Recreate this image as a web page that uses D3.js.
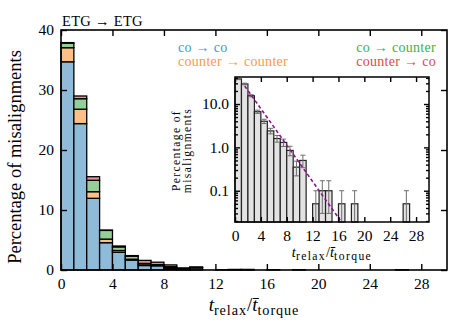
<!DOCTYPE html>
<html>
<head>
<meta charset="utf-8">
<script src="https://cdn.jsdelivr.net/npm/d3@7"></script>
<style>
  body { margin: 0; background: #fff; }
  svg text { font-family: "Liberation Serif", "DejaVu Serif", serif !important; }
</style>
</head>
<body>
<svg id="chart" width="463" height="331" font-family="Liberation Serif, DejaVu Serif, serif"></svg>
<script>
// bin left edges, width 1 (t_relax / t_torque)
const binStart = d3.range(0, 30);

// percentage of misalignments in each bin, per transition type
const coCo =           [34.7, 24.4, 11.95, 4.55, 2.95, 1.65, 0.75, 0.7, 0.2, 0.1, 0.35, 0, 0.05, 0.05, 0.05, 0, 0, 0, 0.05, 0, 0, 0, 0, 0, 0, 0, 0.05, 0, 0, 0];
const counterCounter = [2.35, 2.4, 1.1, 0.6, 0.3, 0.15, 0.1, 0.1, 0.15, 0.05, 0.05, 0, 0, 0, 0, 0, 0.05, 0, 0, 0, 0, 0, 0, 0, 0, 0, 0, 0, 0, 0];
const coCounter =      [0.75, 1.75, 1.9, 1.45, 0.6, 0.5, 0.25, 0.1, 0.2, 0.1, 0.05, 0, 0, 0, 0.05, 0, 0, 0, 0, 0, 0, 0, 0, 0, 0, 0, 0, 0, 0, 0];
const counterCo =      [0.1, 0.45, 0.6, 0.05, 0.15, 0.1, 0.5, 0.4, 0.3, 0.1, 0.05, 0, 0, 0.05, 0, 0, 0, 0, 0, 0, 0, 0, 0, 0, 0, 0, 0, 0, 0, 0];

// Poisson error on the total of each bin (inset)
const totalErr =       [1.37, 1.2, 0.88, 0.57, 0.45, 0.35, 0.28, 0.25, 0.21, 0.13, 0.16, 0, 0.05, 0.07, 0.07, 0, 0.05, 0, 0.05, 0, 0, 0, 0, 0, 0, 0, 0.05, 0, 0, 0];

// exponential fit shown in the inset: A * exp(-rate * x)
const fitA = 53.8, fitRate = 0.483, fitStart = 1.5;

const xTicks = [0, 4, 8, 12, 16, 20, 24, 28];
const yTicks = [0, 10, 20, 30, 40];
const insetYTicks = [0.1, 1, 10];
const insetYLabels = ["0.1", "1.0", "10.0"];

const FONT = '"Liberation Serif", "DejaVu Serif", serif';

const series = [
  { key: "coCo", label: "co \u2192 co", fill: "#8fbbd9", text: "#4a97d0", vals: coCo },
  { key: "counterCounter", label: "counter \u2192 counter", fill: "#ffbf86", text: "#ff9a45", vals: counterCounter },
  { key: "coCounter", label: "co \u2192 counter", fill: "#95cf95", text: "#43b043", vals: coCounter },
  { key: "counterCo", label: "counter \u2192 co", fill: "#ea9393", text: "#df4a4b", vals: counterCo }
];

const table = binStart.map((b, i) => {
  const row = { bin: b };
  series.forEach(s => row[s.key] = s.vals[i]);
  row.total = series.reduce((a, s) => a + s.vals[i], 0);
  row.err = totalErr[i];
  return row;
});

const svg = d3.select("#chart");

// ---------- main panel ----------
const m = { left: 61, right: 447, top: 30, bottom: 270 };
const x = d3.scaleLinear().domain([0, 30]).range([m.left, m.right]);
const y = d3.scaleLinear().domain([0, 40]).range([m.bottom, m.top]);

const stack = d3.stack().keys(series.map(s => s.key));
const layers = stack(table);

const main = svg.append("g");
layers.forEach((layer, li) => {
  main.append("g").selectAll("rect")
    .data(layer.filter(d => d[1] - d[0] > 0))
    .enter().append("rect")
    .attr("x", d => x(d.data.bin))
    .attr("width", x(1) - x(0))
    .attr("y", d => y(d[1]))
    .attr("height", d => y(d[0]) - y(d[1]))
    .attr("fill", series[li].fill)
    .attr("stroke", "#000")
    .attr("stroke-width", 1.3);
});

// axes, ticks pointing inward
function styleAxis(g) {
  g.attr("font-family", FONT);
  g.select(".domain").remove();
  g.selectAll(".tick line").attr("stroke", "#000").attr("stroke-width", 1.4);
  g.selectAll("text").attr("font-size", 15.5).attr("fill", "#000");
}
svg.append("g").attr("transform", `translate(0,${m.bottom})`)
  .call(d3.axisBottom(x).tickValues(xTicks).tickSizeInner(-6).tickSizeOuter(0).tickPadding(8))
  .call(styleAxis);
svg.append("g").attr("transform", `translate(0,${m.top})`)
  .call(d3.axisTop(x).tickValues(xTicks).tickSizeInner(-6).tickSizeOuter(0).tickFormat(""))
  .call(styleAxis);
svg.append("g").attr("transform", `translate(${m.left},0)`)
  .call(d3.axisLeft(y).tickValues(yTicks).tickSizeInner(-6).tickSizeOuter(0).tickPadding(7))
  .call(styleAxis);
svg.append("g").attr("transform", `translate(${m.right},0)`)
  .call(d3.axisRight(y).tickValues(yTicks).tickSizeInner(-6).tickSizeOuter(0).tickFormat(""))
  .call(styleAxis);

svg.append("rect")
  .attr("x", m.left).attr("y", m.top)
  .attr("width", m.right - m.left).attr("height", m.bottom - m.top)
  .attr("fill", "none").attr("stroke", "#000").attr("stroke-width", 1.6);

// title and legend
svg.append("text").attr("x", 62).attr("y", 25.5).attr("font-size", 14.5)
  .attr("letter-spacing", 0.3)
  .text("ETG \u2192 ETG");

const legendPos = [
  { x: 178, y: 52, anchor: "start" },
  { x: 178, y: 66, anchor: "start" },
  { x: 436, y: 52, anchor: "end" },
  { x: 436, y: 66, anchor: "end" }
];
series.forEach((s, i) => {
  svg.append("text")
    .attr("x", legendPos[i].x).attr("y", legendPos[i].y)
    .attr("text-anchor", legendPos[i].anchor)
    .attr("font-size", 14).attr("letter-spacing", 0.3).attr("fill", s.text)
    .text(s.label);
});

// axis labels
svg.append("text")
  .attr("transform", `translate(21,157) rotate(-90)`)
  .attr("text-anchor", "middle").attr("font-size", 18.5)
  .text("Percentage of misalignments");

function ratioLabel(g, size, sub, spacing) {
  const t = g.append("text").attr("text-anchor", "middle").attr("font-size", size);
  t.append("tspan").attr("font-style", "italic").text("t");
  t.append("tspan").attr("font-size", size * sub).attr("letter-spacing", spacing)
    .attr("dy", size * 0.22).text("relax");
  t.append("tspan").attr("dy", -size * 0.22).text("/");
  t.append("tspan").attr("font-style", "italic").text("t\u0304");
  t.append("tspan").attr("font-size", size * sub).attr("letter-spacing", spacing)
    .attr("dy", size * 0.22).text("torque");
  return t;
}
ratioLabel(svg.append("g").attr("transform", `translate(${(m.left + m.right) / 2},311)`), 19, 0.75, 0.9);

// ---------- inset panel ----------
const n = { left: 235, right: 429, top: 77, bottom: 222 };
const xi = d3.scaleLinear().domain([0, 30]).range([n.left, n.right]);
const yi = d3.scaleLog().domain([0.019, 42]).range([n.bottom, n.top]).clamp(true);

svg.append("rect")
  .attr("x", n.left).attr("y", n.top)
  .attr("width", n.right - n.left).attr("height", n.bottom - n.top)
  .attr("fill", "#fff");

const inset = svg.append("g");
const filled = table.filter(d => d.total > 0);

inset.selectAll("rect.bar")
  .data(filled)
  .enter().append("rect")
  .attr("class", "bar")
  .attr("x", d => xi(d.bin))
  .attr("width", xi(1) - xi(0))
  .attr("y", d => yi(d.total))
  .attr("height", d => n.bottom - yi(d.total))
  .attr("fill", "#e3e3e3")
  .attr("stroke", "#222")
  .attr("stroke-width", 1.2);

// error bars
const eb = inset.selectAll("g.err")
  .data(filled)
  .enter().append("g")
  .attr("class", "err")
  .attr("stroke", "#6e6e6e")
  .attr("stroke-width", 1);
eb.append("line")
  .attr("x1", d => xi(d.bin + 0.5)).attr("x2", d => xi(d.bin + 0.5))
  .attr("y1", d => yi(d.total + d.err))
  .attr("y2", d => d.total - d.err > 0 ? yi(d.total - d.err) : n.bottom);
eb.append("line")
  .attr("x1", d => xi(d.bin + 0.5) - 2.5).attr("x2", d => xi(d.bin + 0.5) + 2.5)
  .attr("y1", d => yi(d.total + d.err)).attr("y2", d => yi(d.total + d.err));
eb.filter(d => d.total - d.err > 0.019).append("line")
  .attr("x1", d => xi(d.bin + 0.5) - 2.5).attr("x2", d => xi(d.bin + 0.5) + 2.5)
  .attr("y1", d => yi(d.total - d.err)).attr("y2", d => yi(d.total - d.err));

// exponential fit
const fitX = d3.range(fitStart, 18.01, 0.25);
const fitLine = d3.line()
  .x(d => xi(d))
  .y(d => yi(fitA * Math.exp(-fitRate * d)));
svg.append("clipPath").attr("id", "insetClip").append("rect")
  .attr("x", n.left).attr("y", n.top)
  .attr("width", n.right - n.left).attr("height", n.bottom - n.top);
inset.append("path")
  .datum(fitX.filter(v => fitA * Math.exp(-fitRate * v) >= 0.019))
  .attr("d", fitLine)
  .attr("clip-path", "url(#insetClip)")
  .attr("fill", "none")
  .attr("stroke", "#8b158b")
  .attr("stroke-width", 1.6)
  .attr("stroke-dasharray", "3.5,2.5");

// inset axes
const minorTicks = [];
[0.01, 0.1, 1, 10].forEach(dec => {
  for (let k = 2; k <= 9; k++) {
    const v = k * dec;
    if (v > 0.019 && v < 42) minorTicks.push(v);
  }
});

svg.append("g").attr("transform", `translate(0,${n.bottom})`)
  .call(d3.axisBottom(xi).tickValues(xTicks).tickSizeInner(-5).tickSizeOuter(0).tickPadding(8))
  .call(styleAxis);
svg.append("g").attr("transform", `translate(0,${n.top})`)
  .call(d3.axisTop(xi).tickValues(xTicks).tickSizeInner(-5).tickSizeOuter(0).tickFormat(""))
  .call(styleAxis);
svg.append("g").attr("transform", `translate(${n.left},0)`)
  .call(d3.axisLeft(yi).tickValues(insetYTicks).tickSizeInner(-5).tickSizeOuter(0).tickPadding(6)
    .tickFormat((d, i) => insetYLabels[i]))
  .call(styleAxis);
svg.append("g").attr("transform", `translate(${n.right},0)`)
  .call(d3.axisRight(yi).tickValues(insetYTicks).tickSizeInner(-5).tickSizeOuter(0).tickFormat(""))
  .call(styleAxis);
svg.append("g").attr("transform", `translate(${n.left},0)`)
  .call(d3.axisLeft(yi).tickValues(minorTicks).tickSizeInner(-3).tickSizeOuter(0).tickFormat(""))
  .call(styleAxis);
svg.append("g").attr("transform", `translate(${n.right},0)`)
  .call(d3.axisRight(yi).tickValues(minorTicks).tickSizeInner(-3).tickSizeOuter(0).tickFormat(""))
  .call(styleAxis);

svg.append("rect")
  .attr("x", n.left).attr("y", n.top)
  .attr("width", n.right - n.left).attr("height", n.bottom - n.top)
  .attr("fill", "none").attr("stroke", "#000").attr("stroke-width", 1.5);

// inset labels
const il = svg.append("text")
  .attr("transform", `translate(180,${(n.top + n.bottom) / 2 + 1}) rotate(-90)`)
  .attr("text-anchor", "middle").attr("font-size", 11.5).attr("letter-spacing", 1.4);
il.append("tspan").attr("x", 0).attr("dy", 0).text("Percentage of");
il.append("tspan").attr("x", 0).attr("dy", 10.5).text("misalignments");

ratioLabel(svg.append("g").attr("transform", `translate(${(n.left + n.right) / 2},257)`), 14.5, 0.8, 1.4);
</script>
</body>
</html>
